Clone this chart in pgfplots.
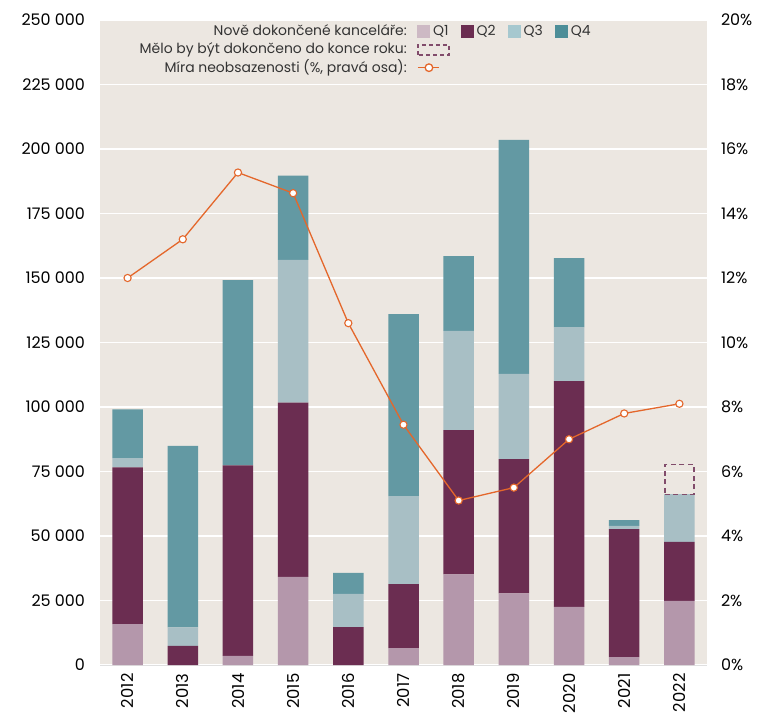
\documentclass[border=0pt]{standalone}
\usepackage{pgfplots}
\pgfplotsset{compat=1.18}
\usepackage{fontspec}
\setmainfont{Poppins}
\definecolor{bgc}{HTML}{ECE7E1}
\definecolor{q1}{HTML}{B497AB}
\definecolor{q2}{HTML}{6B2D51}
\definecolor{q3}{HTML}{A8BFC5}
\definecolor{q4}{HTML}{6399A3}
\definecolor{lq1}{HTML}{CDB9C4}
\definecolor{lq3}{HTML}{A6C8CF}
\definecolor{lq4}{HTML}{4D8E98}
\definecolor{orn}{HTML}{E4672B}
\definecolor{legtext}{HTML}{333333}
\begin{document}
\begin{tikzpicture}
\path[use as bounding box] (-100bp,-53bp) rectangle (659bp,665bp);
\pgfplotsset{
  base/.style={
    scale only axis, width=607bp, height=645bp, at={(0,0)}, anchor=south west,
    xmin=-0.5, xmax=10.5, major tick length=0pt,
    tick label style={font=\fontsize{16}{18}\selectfont, text=black},
    /pgf/number format/assume math mode=true,
  }
}
% bars
\begin{axis}[base,
  ymin=0, ymax=250000, ytick={0,25000,...,250000},
  axis x line*=bottom, axis y line*=left, x axis line style={draw=black!12, -},
  y axis line style={draw=none},
  ymajorgrids, grid style={white, line width=1.2bp},
  axis background/.style={fill=bgc},
  ybar stacked, bar width=30.5bp,
  xtick={0,...,10},
  xticklabels={2012,2013,2014,2015,2016,2017,2018,2019,2020,2021,2022},
  xticklabel style={yshift=-5bp, rotate=90, anchor=east, font=\fontsize{16.5}{18}\selectfont},
  scaled y ticks=false,
  yticklabel style={anchor=east, xshift=-11.5bp, /pgf/number format/.cd, fixed, 1000 sep={\ }},
]
\addplot[fill=q1, draw=none] coordinates {(0,15800) (1,0) (2,3500) (3,34200) (4,0) (5,6500) (6,35100) (7,27800) (8,22500) (9,3100) (10,24900)};
\addplot[fill=q2, draw=none] coordinates {(0,60800) (1,7400) (2,73900) (3,67500) (4,14700) (5,24800) (6,55900) (7,52000) (8,87500) (9,49600) (10,22800)};
\addplot[fill=q3, draw=none] coordinates {(0,3600) (1,7200) (2,0) (3,55300) (4,12900) (5,34200) (6,38500) (7,33000) (8,21000) (9,1200) (10,18500)};
\addplot[fill=q4, draw=none] coordinates {(0,18900) (1,70300) (2,71800) (3,32700) (4,8100) (5,70500) (6,29000) (7,90700) (8,26700) (9,2300) (10,0)};
\end{axis}
% expected completion (dashed)
\begin{axis}[base, ymin=0, ymax=250000, axis lines=none, xtick=\empty, ytick=\empty,
  ybar stacked, bar width=29bp]
\addplot[fill=none, draw=none] coordinates {(10,66200)};
\addplot[fill=none, draw=q2!85, line width=1.4bp, dash pattern=on 5bp off 3.5bp] coordinates {(10,11400)};
\end{axis}
% vacancy rate
\begin{axis}[base, ymin=0, ymax=20, ytick={0,2,...,20},
  axis x line=none, axis y line*=right, y axis line style={draw=none},
  xtick=\empty, yticklabel pos=right,
  yticklabel style={anchor=west, xshift=10.5bp},
  yticklabel={\pgfmathprintnumber{\tick}\%},
]
\addplot[orn, line width=1.3bp, mark=*, mark size=3.6bp, mark options={fill=white, draw=orn, line width=1.1bp, solid}]
 coordinates {(0,12.0) (1,13.2) (2,15.27) (3,14.63) (4,10.6) (5,7.45) (6,5.1) (7,5.5) (8,7.0) (9,7.8) (10,8.1)};
\end{axis}
% legend
\begin{scope}[every node/.style={font=\fontsize{14}{17}\selectfont, text=legtext, inner sep=0pt}]
\node[anchor=base east] at (307bp,629.3bp) {Nově dokončené kanceláře:};
\node[anchor=base east] at (307bp,611bp) {Mělo by být dokončeno do konce roku:};
\node[anchor=base east] at (307bp,592.7bp) {Míra neobsazenosti (\%, pravá osa):};
\node[anchor=base west] at (317bp,629.3bp) {\textcolor{lq1}{\rule[-2bp]{13bp}{13bp}}\hspace{3bp}Q1\hspace{12bp}\textcolor{q2}{\rule[-2bp]{13bp}{13bp}}\hspace{3bp}Q2\hspace{12bp}\textcolor{lq3}{\rule[-2bp]{13bp}{13bp}}\hspace{3bp}Q3\hspace{12bp}\textcolor{lq4}{\rule[-2bp]{13bp}{13bp}}\hspace{3bp}Q4};
\node[anchor=base west] at (317bp,611bp) {\tikz[baseline=1bp]\draw[q2!85, line width=1.4bp, dash pattern=on 4bp off 3bp] (0,0) rectangle (31bp,10bp);};
\node[anchor=base west] at (317bp,592.7bp) {\tikz[baseline=-4.6bp]{\draw[orn, line width=1.5bp] (0,0) -- (21bp,0); \draw[orn, fill=white, line width=1.3bp] (11bp,0) circle (3.8bp);}};
\end{scope}
\end{tikzpicture}
\end{document}
